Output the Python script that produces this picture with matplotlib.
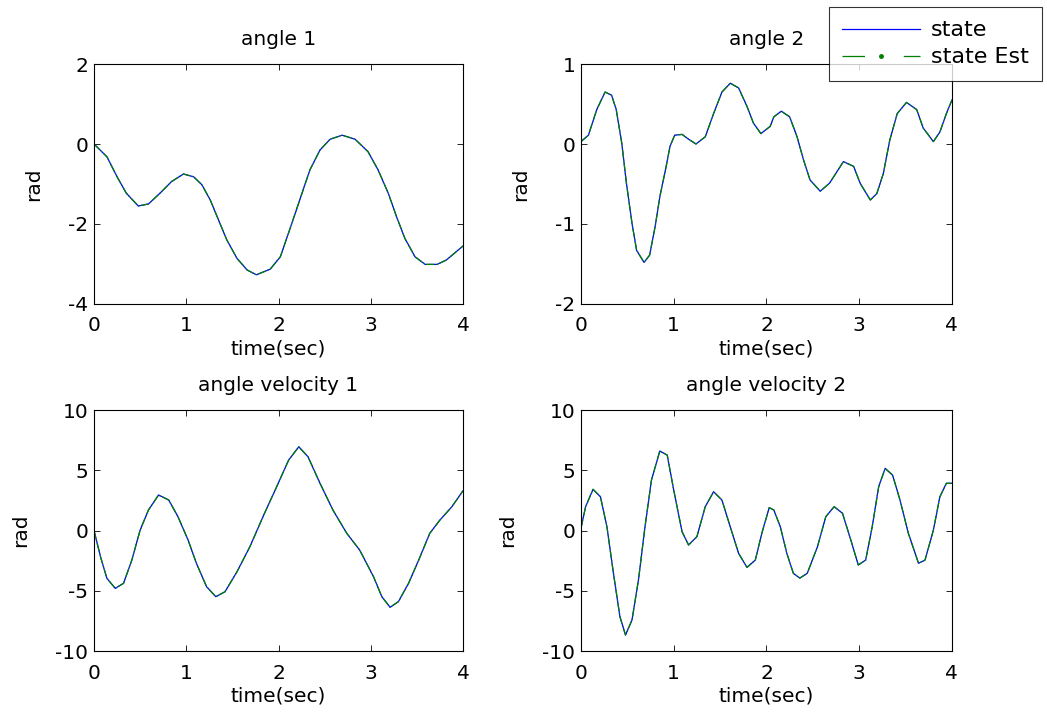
import numpy as np
import matplotlib.pyplot as plt

plt.rcParams['font.family'] = ['DejaVu Sans']
plt.rcParams['font.size'] = 14.5
plt.rcParams['axes.unicode_minus'] = False

# angle 1
t1 = [0, 0.14, 0.25, 0.35, 0.48, 0.59, 0.72, 0.84, 0.97, 1.08, 1.17, 1.26, 1.35,
      1.44, 1.55, 1.66, 1.76, 1.91, 2.02, 2.12, 2.23, 2.34, 2.45, 2.56, 2.69,
      2.83, 2.97, 3.08, 3.19, 3.28, 3.37, 3.48, 3.59, 3.72, 3.82, 4.0]
y1 = [0.0, -0.32, -0.82, -1.23, -1.55, -1.5, -1.22, -0.94, -0.75, -0.82, -1.02,
      -1.4, -1.9, -2.4, -2.86, -3.15, -3.27, -3.13, -2.82, -2.15, -1.4, -0.65,
      -0.15, 0.12, 0.22, 0.12, -0.19, -0.65, -1.23, -1.82, -2.36, -2.82, -3.01,
      -3.01, -2.9, -2.55]

# angle 2
t2 = [0, 0.08, 0.17, 0.26, 0.33, 0.38, 0.44, 0.49, 0.55, 0.60, 0.68, 0.74, 0.80,
      0.85, 0.91, 0.96, 1.01, 1.09, 1.16, 1.24, 1.34, 1.43, 1.52, 1.61, 1.70,
      1.79, 1.86, 1.94, 2.04, 2.08, 2.16, 2.25, 2.33, 2.40, 2.47, 2.58, 2.68,
      2.83, 2.94, 3.01, 3.12, 3.19, 3.26, 3.33, 3.41, 3.51, 3.62, 3.69, 3.80,
      3.87, 3.94, 4.0]
y2 = [0.03, 0.11, 0.43, 0.65, 0.61, 0.43, 0.01, -0.49, -0.99, -1.33, -1.48,
      -1.39, -1.03, -0.66, -0.33, -0.03, 0.11, 0.12, 0.06, 0.0, 0.09, 0.38,
      0.65, 0.76, 0.70, 0.47, 0.26, 0.13, 0.22, 0.34, 0.41, 0.34, 0.09, -0.2,
      -0.45, -0.59, -0.49, -0.22, -0.28, -0.49, -0.70, -0.62, -0.37, 0.05,
      0.38, 0.52, 0.43, 0.2, 0.03, 0.15, 0.38, 0.55]

# angle velocity 1
t3 = [0, 0.07, 0.14, 0.23, 0.32, 0.41, 0.50, 0.59, 0.70, 0.81, 0.91, 1.02, 1.11,
      1.22, 1.32, 1.42, 1.55, 1.69, 1.84, 1.98, 2.11, 2.22, 2.32, 2.45, 2.59,
      2.74, 2.88, 3.03, 3.12, 3.21, 3.30, 3.41, 3.52, 3.64, 3.75, 3.88, 4.0]
y3 = [0.0, -2.17, -3.97, -4.8, -4.38, -2.45, 0.04, 1.7, 2.95, 2.53, 1.15, -0.79,
      -2.72, -4.66, -5.49, -5.08, -3.42, -1.34, 1.29, 3.63, 5.85, 6.95, 6.12,
      3.92, 1.7, -0.23, -1.62, -3.83, -5.49, -6.37, -5.9, -4.38, -2.45, -0.23,
      0.87, 1.98, 3.3]

# angle velocity 2
t4 = [0, 0.05, 0.13, 0.21, 0.28, 0.35, 0.42, 0.48, 0.55, 0.62, 0.69, 0.76, 0.85,
      0.93, 1.0, 1.09, 1.16, 1.25, 1.34, 1.43, 1.52, 1.61, 1.70, 1.79, 1.88,
      1.95, 2.03, 2.08, 2.15, 2.22, 2.29, 2.36, 2.44, 2.55, 2.64, 2.73, 2.82,
      2.91, 2.99, 3.07, 3.14, 3.21, 3.28, 3.36, 3.44, 3.53, 3.64, 3.71, 3.80,
      3.87, 3.94, 4.0]
y4 = [0.2, 1.98, 3.42, 2.8, 0.3, -3.55, -7.15, -8.67, -7.43, -4.1, 0.3, 4.19,
      6.6, 6.26, 3.36, -0.1, -1.2, -0.51, 1.98, 3.22, 2.53, 0.3, -1.9, -3.06,
      -2.45, -0.23, 1.9, 1.7, 0.3, -1.9, -3.55, -3.95, -3.55, -1.34, 1.15, 1.98,
      1.43, -0.79, -2.86, -2.45, 0.3, 3.63, 5.16, 4.6, 2.53, -0.23, -2.72,
      -2.45, 0.04, 2.8, 3.92, 3.92]

panels = [
    (t1, y1, 'angle 1', (-4, 2), [-4, -2, 0, 2]),
    (t2, y2, 'angle 2', (-2, 1), [-2, -1, 0, 1]),
    (t3, y3, 'angle velocity 1', (-10, 10), [-10, -5, 0, 5, 10]),
    (t4, y4, 'angle velocity 2', (-10, 10), [-10, -5, 0, 5, 10]),
]

fig = plt.figure(figsize=(10.47, 7.2), dpi=100)
rects = [
    [0.0898, 0.5778, 0.3524, 0.3333],
    [0.5549, 0.5778, 0.3543, 0.3333],
    [0.0898, 0.0958, 0.3524, 0.3347],
    [0.5549, 0.0958, 0.3543, 0.3347],
]

for rect, (t, y, title, ylim, yticks) in zip(rects, panels):
    ax = fig.add_axes(rect)
    ax.plot(t, y, color='#0000ff', lw=0.9)
    ax.plot(t, y, color='#008000', lw=0.9, ls='-.')
    ax.set_xlim(0, 4)
    ax.set_ylim(*ylim)
    ax.set_xticks([0, 1, 2, 3, 4])
    ax.set_yticks(yticks)
    ax.tick_params(direction='in', top=True, right=True, length=4, width=0.6)
    ax.tick_params(axis='x', pad=9)
    ax.tick_params(axis='y', pad=4)
    for s in ax.spines.values():
        s.set_linewidth(0.8)
    ax.set_title(title, fontsize=14.5, pad=14)
    ax.set_xlabel('time(sec)', labelpad=3)
    ax.set_ylabel('rad', labelpad=18)

# legend handles: blue solid, green dash with dot in the middle
state_handle = plt.Line2D([], [], color='#0000ff', lw=0.9)
est_handle = plt.Line2D([], [], color='#008000', lw=0.9, ls=(0, (18, 31)),
                        marker='.', markersize=5)
leg = fig.legend([state_handle, est_handle], ['state', 'state Est'],
                 loc='upper left', bbox_to_anchor=(829 / 1047, 1 - 7 / 720),
                 frameon=True, fancybox=False, edgecolor='black',
                 fontsize=16, handlelength=3.5, handletextpad=0.5,
                 borderpad=0.6, borderaxespad=0, labelspacing=0.32)
leg.get_frame().set_linewidth(0.8)
leg.set_zorder(10)

fig.savefig('out.png', dpi=100)
